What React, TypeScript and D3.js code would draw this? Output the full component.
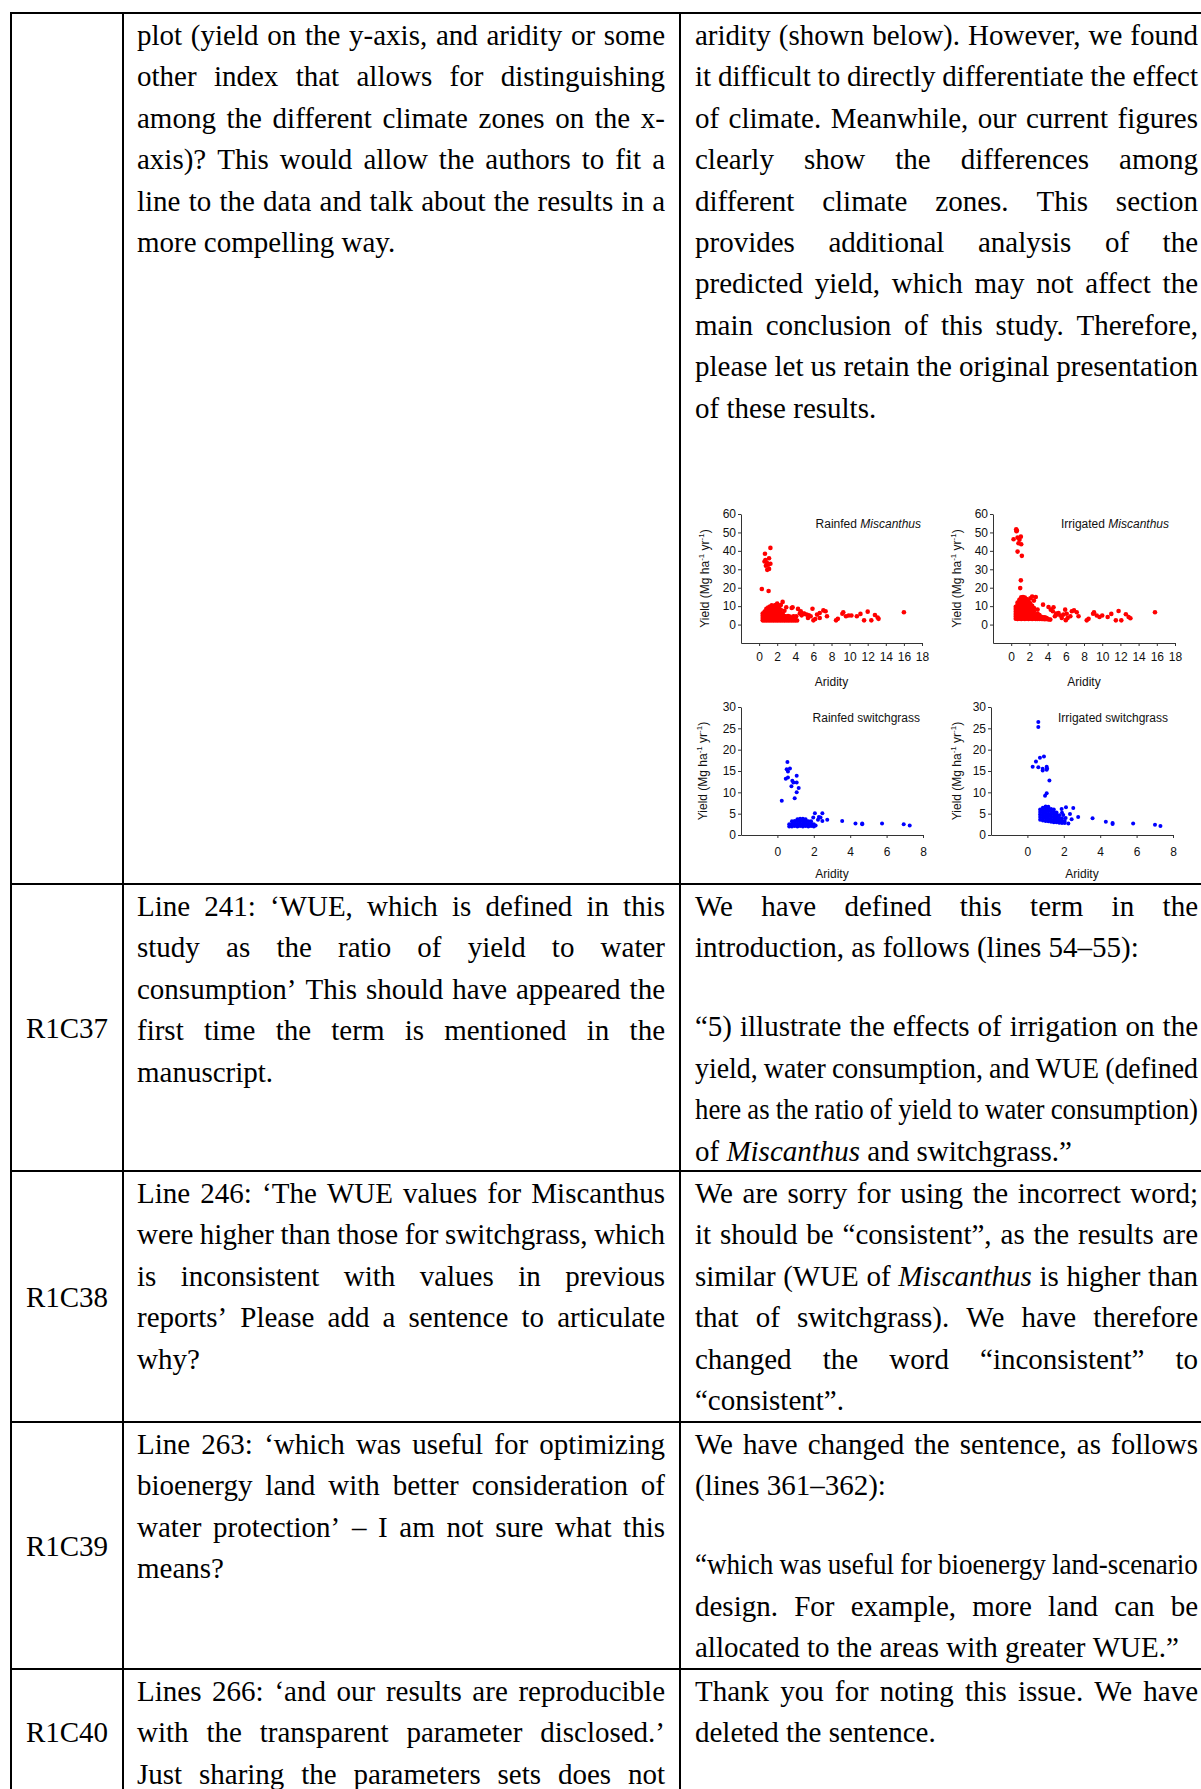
import React, { useEffect, useRef } from 'react';
import * as d3 from 'd3';

// ---- table text (one array per cell, "" = empty line, *word* = italic) ----
const row1Left = [
  'plot (yield on the y-axis, and aridity or some',
  'other index that allows for distinguishing',
  'among the different climate zones on the x-',
  'axis)? This would allow the authors to fit a',
  'line to the data and talk about the results in a',
  'more compelling way.',
];
const row1Right = [
  'aridity (shown below). However, we found',
  'it difficult to directly differentiate the effect',
  'of climate. Meanwhile, our current figures',
  'clearly show the differences among',
  'different climate zones. This section',
  'provides additional analysis of the',
  'predicted yield, which may not affect the',
  'main conclusion of this study. Therefore,',
  'please let us retain the original presentation',
  'of these results.',
];
const row2Left = [
  'Line 241: ‘WUE, which is defined in this',
  'study as the ratio of yield to water',
  'consumption’ This should have appeared the',
  'first time the term is mentioned in the',
  'manuscript.',
];
const row2Right = [
  'We have defined this term in the',
  'introduction, as follows (lines 54–55):',
  '',
  '“5) illustrate the effects of irrigation on the',
  'yield, water consumption, and WUE (defined',
  'here as the ratio of yield to water consumption)',
  'of *Miscanthus* and switchgrass.”',
];
const row3Left = [
  'Line 246: ‘The WUE values for Miscanthus',
  'were higher than those for switchgrass, which',
  'is inconsistent with values in previous',
  'reports’ Please add a sentence to articulate',
  'why?',
];
const row3Right = [
  'We are sorry for using the incorrect word;',
  'it should be “consistent”, as the results are',
  'similar (WUE of *Miscanthus* is higher than',
  'that of switchgrass). We have therefore',
  'changed the word “inconsistent” to',
  '“consistent”.',
];
const row4Left = [
  'Line 263: ‘which was useful for optimizing',
  'bioenergy land with better consideration of',
  'water protection’ – I am not sure what this',
  'means?',
];
const row4Right = [
  'We have changed the sentence, as follows',
  '(lines 361–362):',
  '',
  '“which was useful for bioenergy land-scenario',
  'design. For example, more land can be',
  'allocated to the areas with greater WUE.”',
];
const row5Left = [
  'Lines 266: ‘and our results are reproducible',
  'with the transparent parameter disclosed.’',
  'Just sharing the parameters sets does not',
];
const row5Right = [
  'Thank you for noting this issue. We have',
  'deleted the sentence.',
];
const rowLabels = ['', 'R1C37', 'R1C38', 'R1C39', 'R1C40'];

// ---- scatter data: dense cores as [aridity, yields at that aridity] ----
const rainfedMiscanthusCore: [number, number[]][] = [
  [0.4, [2.3, 3.5, 4.8, 6.0]],
  [0.6, [2.2, 3.4, 4.6, 5.8, 7.0]],
  [0.8, [2.3, 3.6, 4.9, 6.2, 7.5, 8.6]],
  [1.0, [2.2, 3.4, 4.6, 5.8, 7.0, 8.2, 9.3]],
  [1.2, [2.3, 3.6, 4.9, 6.2, 7.5, 8.8, 9.8]],
  [1.4, [2.2, 3.4, 4.6, 5.8, 7.0, 8.2, 9.4, 10.4]],
  [1.6, [2.3, 3.6, 4.9, 6.2, 7.5, 8.8, 10.0]],
  [1.8, [2.2, 3.4, 4.6, 5.8, 7.0, 8.2, 9.4, 10.6]],
  [2.0, [2.3, 3.6, 4.9, 6.2, 7.5, 8.8, 10.0, 11.4]],
  [2.2, [2.2, 3.4, 4.6, 5.8, 7.0, 8.4, 9.6]],
  [2.4, [2.3, 3.6, 4.8, 6.2, 8.0, 10.6]],
  [2.6, [2.2, 3.3, 4.5, 6.0, 12.3]],
  [2.8, [2.3, 3.4, 4.6, 7.5]],
  [3.0, [2.2, 3.3, 4.4, 9.4]],
  [3.2, [2.3, 3.4, 4.6]],
  [3.4, [2.2, 3.2, 4.3]],
  [3.6, [2.3, 3.4, 9.0]],
  [3.8, [2.2, 3.2, 4.5]],
  [4.0, [2.3, 3.0]],
  [4.2, [2.2]],
];
const rainfedMiscanthusOther: [number, number][] = [
  [1.25, 41.6], [0.65, 38.4], [1.1, 36.0], [0.6, 34.2], [0.85, 33.7], [1.25, 33.0],
  [0.75, 31.9], [0.9, 29.7], [1.1, 30.2], [0.7, 35.0], [1.0, 32.5], [0.3, 19.3], [1.05, 18.2],
  [3.7, 9.4], [4.3, 8.5], [4.6, 7.2], [4.95, 6.0], [4.7, 5.0], [5.25, 5.4], [5.7, 4.5],
  [5.9, 8.6], [6.4, 5.4], [6.7, 6.3], [7.1, 7.7], [7.35, 7.2], [7.5, 4.5], [6.7, 3.6],
  [6.0, 2.3], [5.4, 3.6], [4.1, 4.5], [3.95, 3.1], [5.0, 5.8], [5.5, 5.0], [6.2, 3.0],
  [4.5, 6.0], [8.5, 2.3], [8.7, 3.1], [9.2, 5.9], [9.3, 6.7], [9.6, 4.5], [9.9, 4.9],
  [10.2, 4.9], [10.8, 4.5], [11.2, 5.8], [11.6, 2.3], [12.0, 7.0], [12.4, 2.3],
  [12.8, 5.2], [13.1, 3.8], [13.2, 3.1], [16.0, 6.7],
];
const irrigatedMiscanthusCore: [number, number[]][] = [
  [0.5, [3.2, 4.5, 5.8, 7.1, 8.4, 9.7]],
  [0.7, [3.0, 4.3, 5.6, 6.9, 8.2, 9.5, 10.8, 12.0]],
  [0.9, [3.2, 4.5, 5.8, 7.1, 8.4, 9.7, 11.0, 12.3, 13.5]],
  [1.1, [3.0, 4.3, 5.6, 6.9, 8.2, 9.5, 10.8, 12.1, 13.4, 14.8]],
  [1.3, [3.2, 4.5, 5.8, 7.1, 8.4, 9.7, 11.0, 12.3, 13.6, 15.0]],
  [1.5, [3.0, 4.3, 5.6, 6.9, 8.2, 9.5, 10.8, 12.1, 13.4, 14.6]],
  [1.7, [3.2, 4.5, 5.8, 7.1, 8.4, 9.7, 11.0, 12.3, 13.8]],
  [1.9, [3.0, 4.3, 5.6, 6.9, 8.2, 9.5, 10.8, 12.4]],
  [2.1, [3.2, 4.5, 5.8, 7.1, 8.4, 9.8, 11.5, 14.2]],
  [2.3, [3.0, 4.3, 5.6, 6.9, 8.5, 10.2, 15.2]],
  [2.5, [3.2, 4.4, 5.7, 7.3, 9.0, 13.0]],
  [2.7, [3.0, 4.2, 5.5, 15.0]],
  [2.9, [3.1, 4.3, 6.0, 8.2]],
  [3.1, [3.0, 4.1, 5.2]],
  [3.3, [3.1, 4.2]],
  [3.5, [3.0, 4.0, 10.8]],
  [3.7, [2.9, 3.9]],
  [3.9, [3.0]],
  [4.1, [2.8]],
];
const irrigatedMiscanthusOther: [number, number][] = [
  [0.55, 51.7], [0.62, 51.0], [0.58, 50.6], [0.26, 46.3], [0.7, 47.2], [1.06, 47.7],
  [0.91, 46.0], [0.8, 44.1], [1.1, 43.6], [0.7, 39.6], [1.17, 37.3], [1.06, 24.0], [0.99, 19.8],
  [4.1, 9.5], [4.35, 8.1], [4.65, 9.4], [4.57, 7.2], [4.94, 6.0], [5.2, 6.3], [4.8, 4.5],
  [5.4, 4.9], [5.56, 3.6], [5.74, 5.4], [5.93, 8.1], [6.1, 5.9], [6.2, 3.6], [6.5, 4.5],
  [6.66, 7.2], [6.9, 7.7], [7.2, 6.7], [7.4, 4.5], [3.9, 3.6], [4.3, 2.7], [3.4, 3.1],
  [5.0, 5.4], [6.0, 2.4], [8.3, 2.3], [8.5, 3.1], [9.0, 5.9], [9.1, 6.7], [9.4, 4.9],
  [9.7, 4.1], [10.0, 4.9], [10.6, 4.1], [11.0, 5.8], [11.5, 2.3], [11.8, 7.4], [12.1, 2.3],
  [12.6, 5.6], [12.9, 4.1], [13.1, 3.4], [15.8, 6.7],
];
const rainfedSwitchgrassCore: [number, number[]][] = [
  [0.65, [2.0, 2.5]],
  [0.8, [2.0, 2.6, 3.2]],
  [0.95, [2.1, 2.7, 3.3]],
  [1.1, [2.0, 2.6, 3.2, 3.7]],
  [1.25, [2.1, 2.7, 3.3, 3.8]],
  [1.4, [2.0, 2.6, 3.2, 3.8]],
  [1.55, [2.1, 2.7, 3.3, 3.7]],
  [1.7, [2.0, 2.6, 3.2]],
  [1.85, [2.1, 2.7, 3.2]],
  [2.0, [2.0, 2.5]],
  [2.1, [2.2]],
];
const rainfedSwitchgrassOther: [number, number][] = [
  [0.55, 17.1], [0.51, 15.4], [0.69, 15.6], [0.58, 14.9], [0.46, 13.2], [0.58, 13.5],
  [1.06, 13.9], [1.06, 12.3], [0.82, 12.7], [0.88, 12.3], [1.17, 11.0], [0.77, 11.4],
  [1.06, 10.0], [0.95, 8.6], [0.24, 8.0],
  [1.97, 4.1], [2.06, 5.1], [2.47, 5.1], [2.28, 4.2], [2.23, 3.6], [2.47, 3.3], [2.74, 3.6],
  [2.37, 4.1], [3.56, 3.3], [4.29, 2.7], [4.66, 2.7], [4.66, 2.5], [5.75, 2.7], [6.94, 2.5],
  [7.27, 2.2],
];
const irrigatedSwitchgrassCore: [number, number[]][] = [
  [0.7, [3.6, 4.2, 4.8, 5.4, 6.0]],
  [0.85, [3.4, 4.0, 4.6, 5.2, 5.8, 6.4]],
  [1.0, [3.3, 3.9, 4.5, 5.1, 5.7, 6.3, 6.7]],
  [1.15, [3.2, 3.8, 4.4, 5.0, 5.6, 6.2, 6.6]],
  [1.3, [3.1, 3.7, 4.3, 4.9, 5.5, 6.1]],
  [1.45, [3.0, 3.6, 4.2, 4.8, 5.4, 6.0]],
  [1.6, [3.0, 3.5, 4.1, 4.7, 5.3]],
  [1.75, [2.9, 3.4, 4.0, 4.6]],
  [1.9, [2.8, 3.3, 3.9]],
  [2.05, [2.8, 3.3]],
];
const irrigatedSwitchgrassOther: [number, number][] = [
  [0.6, 26.5], [0.6, 25.3], [0.47, 17.2], [0.69, 18.1], [0.91, 18.4], [0.29, 16.0],
  [0.6, 15.9], [0.84, 15.5], [0.84, 15.1], [1.06, 16.0], [1.06, 15.3], [1.08, 15.6],
  [1.21, 12.8], [1.06, 9.8], [0.97, 9.2],
  [1.88, 6.1], [2.12, 6.5], [2.52, 6.3], [2.34, 4.9], [1.97, 4.7], [2.43, 3.7], [2.25, 2.7],
  [2.79, 4.2], [3.58, 3.9], [4.31, 3.1], [4.68, 2.8], [4.68, 2.6], [5.81, 2.7], [7.01, 2.4],
  [7.31, 2.1], [2.1, 4.0], [1.9, 5.2],
];

const miscXTicks = [0, 2, 4, 6, 8, 10, 12, 14, 16, 18];
const miscYTicks = [0, 10, 20, 30, 40, 50, 60];
const switchXTicks = [0, 2, 4, 6, 8];
const switchYTicks = [0, 5, 10, 15, 20, 25, 30];

// ---- layout ----
const W = 1201, H = 1789;
const SERIF = '"Liberation Serif", "Times New Roman", serif';
const SANS = '"Liberation Sans", Arial, sans-serif';
const FS = 29;
const PITCH = 41.4;
const BLANK = 37.5;
const rowTops = [13, 884, 1171, 1422, 1669, 1795];
const colX = [11, 123, 680];
const leftText = [137, 665];
const rightText = [695, 1198];

const expand = (core: [number, number[]][], other: [number, number][]) =>
  core.flatMap(([x, ys]) => ys.map((y) => [x, y] as [number, number])).concat(other);

const panels = [
  {
    title: 'Rainfed ', italic: 'Miscanthus', color: '#ff0000', r: 2.3,
    points: expand(rainfedMiscanthusCore, rainfedMiscanthusOther),
    left: 741, right: 922, top: 514, bottom: 643, xDomain: [-2, 18], yDomain: [-10, 60],
    xTicks: miscXTicks, yTicks: miscYTicks, titleX: 921, titleY: 528, yTitleX: 709, xTitleY: 686, xPad: 6,
  },
  {
    title: 'Irrigated ', italic: 'Miscanthus', color: '#ff0000', r: 2.3,
    points: expand(irrigatedMiscanthusCore, irrigatedMiscanthusOther),
    left: 993, right: 1175, top: 514, bottom: 643, xDomain: [-2, 18], yDomain: [-10, 60],
    xTicks: miscXTicks, yTicks: miscYTicks, titleX: 1169, titleY: 528, yTitleX: 961, xTitleY: 686, xPad: 6,
  },
  {
    title: 'Rainfed switchgrass', italic: '', color: '#0000ff', r: 2,
    points: expand(rainfedSwitchgrassCore, rainfedSwitchgrassOther),
    left: 741, right: 923, top: 707, bottom: 835, xDomain: [-2, 8], yDomain: [0, 30],
    xTicks: switchXTicks, yTicks: switchYTicks, titleX: 920, titleY: 722, yTitleX: 707, xTitleY: 878, xPad: 9,
  },
  {
    title: 'Irrigated switchgrass', italic: '', color: '#0000ff', r: 2,
    points: expand(irrigatedSwitchgrassCore, irrigatedSwitchgrassOther),
    left: 991, right: 1173, top: 707, bottom: 835, xDomain: [-2, 8], yDomain: [0, 30],
    xTicks: switchXTicks, yTicks: switchYTicks, titleX: 1168, titleY: 722, yTitleX: 961, xTitleY: 878, xPad: 9,
  },
];

let ctx: CanvasRenderingContext2D | null = null;
function measure(t: string, italic: boolean) {
  if (!ctx) ctx = document.createElement('canvas').getContext('2d');
  ctx!.font = `${italic ? 'italic ' : ''}${FS}px ${SERIF}`;
  return ctx!.measureText(t).width;
}

// place words of one line, justified or not; too-long lines get narrower glyphs
function layoutLine(line: string, x0: number, x1: number, justify: boolean) {
  const words = line.split(' ').filter(Boolean).map((w) => {
    const italic = w.length > 2 && w.startsWith('*') && w.endsWith('*');
    const t = italic ? w.slice(1, -1) : w;
    return { t, italic, w: measure(t, italic) };
  });
  const total = d3.sum(words, (d) => d.w);
  const space = measure(' ', false);
  const avail = x1 - x0;
  let gap = space, scale = 1;
  if (justify && words.length > 1) gap = (avail - total) / (words.length - 1);
  const minGap = space * 0.85;
  if (words.length > 1 && gap < minGap) {
    gap = minGap;
    scale = (avail - gap * (words.length - 1)) / total;
  }
  let x = x0;
  return words.map((w) => {
    const out = { ...w, x, scale };
    x += w.w * scale + gap;
    return out;
  });
}

function Cell({ lines, top, x0, x1, cont }: { lines: string[]; top: number; x0: number; x1: number; cont?: boolean }) {
  let y = top + 32;
  const out: React.ReactNode[] = [];
  lines.forEach((line, i) => {
    if (line === '') { y += BLANK; return; }
    const next = lines[i + 1];
    const last = next === undefined ? !cont : next === '';
    layoutLine(line, x0, x1, !last).forEach((w, j) => {
      out.push(
        <text key={`${i}-${j}`} transform={`translate(${w.x},${y})${w.scale < 1 ? ` scale(${w.scale},1)` : ''}`}
          fontStyle={w.italic ? 'italic' : 'normal'}>
          {w.t}
        </text>
      );
    });
    y += PITCH;
  });
  return <g>{out}</g>;
}

export default function App() {
  const ref = useRef<SVGGElement>(null);

  useEffect(() => {
    const root = d3.select(ref.current);
    root.selectAll('*').remove();
    panels.forEach((p) => {
      const x = d3.scaleLinear().domain(p.xDomain).range([p.left, p.right]);
      const y = d3.scaleLinear().domain(p.yDomain).range([p.bottom, p.top]);
      const g = root.append('g');

      g.append('g').selectAll('circle').data(p.points).join('circle')
        .attr('cx', (d) => x(d[0])).attr('cy', (d) => y(d[1]))
        .attr('r', p.r).attr('fill', p.color);

      const yAxis = g.append('g').attr('transform', `translate(${p.left},0)`)
        .call(d3.axisLeft(y).tickValues(p.yTicks).tickSize(3).tickSizeOuter(0).tickPadding(2));
      const xAxis = g.append('g').attr('transform', `translate(0,${p.bottom})`)
        .call(d3.axisBottom(x).tickValues(p.xTicks).tickSize(3).tickSizeOuter(0).tickPadding(p.xPad));
      [yAxis, xAxis].forEach((a) => {
        a.attr('font-family', SANS).attr('font-size', 12);
        a.selectAll('path, line').attr('stroke', '#333');
        a.selectAll('text').attr('fill', '#111');
      });

      const t = g.append('text').attr('x', p.titleX).attr('y', p.titleY)
        .attr('text-anchor', 'end').attr('font-family', SANS).attr('font-size', 12).attr('fill', '#111')
        .text(p.title);
      if (p.italic) t.append('tspan').attr('font-style', 'italic').text(p.italic);

      g.append('text').attr('x', (p.left + p.right) / 2).attr('y', p.xTitleY)
        .attr('text-anchor', 'middle').attr('font-family', SANS).attr('font-size', 12).attr('fill', '#111')
        .text('Aridity');

      const yt = g.append('text')
        .attr('transform', `translate(${p.yTitleX},${(p.top + p.bottom) / 2}) rotate(-90)`)
        .attr('text-anchor', 'middle').attr('font-family', SANS).attr('font-size', 12).attr('fill', '#111');
      yt.append('tspan').text('Yield (Mg ha');
      yt.append('tspan').attr('font-size', 8).attr('dy', -5).text('-1');
      yt.append('tspan').attr('dy', 5).text(' yr');
      yt.append('tspan').attr('font-size', 8).attr('dy', -5).text('-1');
      yt.append('tspan').attr('dy', 5).text(')');
    });
  }, []);

  const cells = [
    [row1Left, row1Right],
    [row2Left, row2Right],
    [row3Left, row3Right],
    [row4Left, row4Right],
    [row5Left, row5Right],
  ];

  return (
    <svg width={W} height={H} style={{ position: 'absolute', left: 0, top: 0, background: '#fff' }}>
      <g fontFamily={SERIF} fontSize={FS} fill="#000">
        {cells.map(([l, r], i) => (
          <g key={i}>
            <Cell lines={l} top={rowTops[i]} x0={leftText[0]} x1={leftText[1]} cont={i === 4} />
            <Cell lines={r} top={rowTops[i]} x0={rightText[0]} x1={rightText[1]} />
            {rowLabels[i] && (
              <text x={(colX[0] + colX[1]) / 2} y={(rowTops[i] + rowTops[i + 1]) / 2 + 10} textAnchor="middle">
                {rowLabels[i]}
              </text>
            )}
          </g>
        ))}
      </g>
      <g stroke="#000" strokeWidth={2}>
        {rowTops.slice(0, 5).map((y) => (
          <line key={y} x1={colX[0] - 1} x2={W} y1={y} y2={y} />
        ))}
        {colX.map((x) => (
          <line key={x} x1={x} x2={x} y1={rowTops[0] - 1} y2={H} />
        ))}
      </g>
      <g ref={ref} />
    </svg>
  );
}
